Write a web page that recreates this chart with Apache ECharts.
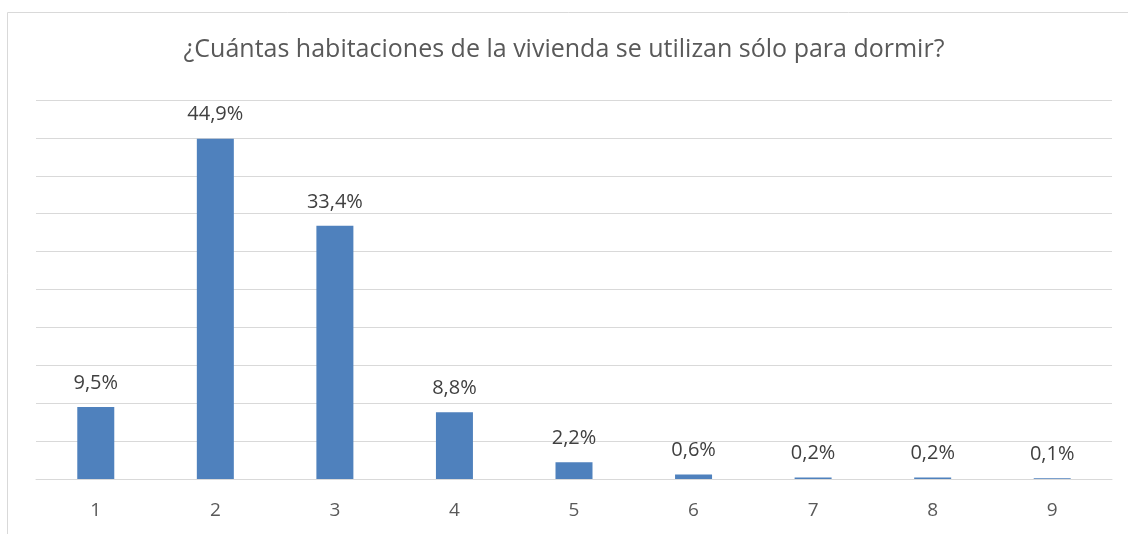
<!DOCTYPE html>
<html>
<head>
<meta charset="utf-8">
<script src="https://cdn.jsdelivr.net/npm/echarts@6/dist/echarts.min.js"></script>
<style>
  html, body { margin: 0; padding: 0; background: #fff; }
  #chart { width: 1128px; height: 534px; }
</style>
</head>
<body>
<div id="chart"></div>
<script>
var titleText = "¿Cuántas habitaciones de la vivienda se utilizan sólo para dormir?";
var categories = ["1", "2", "3", "4", "5", "6", "7", "8", "9"];
var percentages = [9.5, 44.9, 33.4, 8.8, 2.2, 0.6, 0.2, 0.2, 0.1];

var myChart = echarts.init(document.getElementById("chart"));
var font = "'Open Sans', 'Noto Sans', sans-serif";

myChart.setOption({
  animation: false,
  title: {
    text: titleText,
    left: "center",
    top: 32,
    textStyle: {
      color: "#595959",
      fontSize: 25,
      fontWeight: "normal",
      fontFamily: font
    }
  },
  graphic: [
    {
      type: "rect",
      shape: { x: 7.5, y: 12.5, width: 1130, height: 530 },
      style: { fill: "none", stroke: "#d9d9d9", lineWidth: 1 },
      silent: true
    }
  ],
  grid: {
    left: 36,
    right: 16,
    top: 100,
    bottom: 55
  },
  xAxis: {
    type: "category",
    data: categories,
    axisTick: { show: false },
    axisLine: { lineStyle: { color: "#d9d9d9", width: 1 } },
    axisLabel: {
      color: "#595959",
      fontSize: 19,
      fontFamily: font,
      margin: 22
    }
  },
  yAxis: {
    type: "value",
    min: 0,
    max: 50,
    interval: 5,
    axisLabel: { show: false },
    axisLine: { show: false },
    axisTick: { show: false },
    splitLine: { lineStyle: { color: "#d9d9d9", width: 1 } }
  },
  series: [
    {
      type: "bar",
      data: percentages,
      barWidth: 37,
      itemStyle: { color: "#4f81bd" },
      label: {
        show: true,
        position: "top",
        distance: 14,
        color: "#404040",
        fontSize: 20,
        fontFamily: font,
        formatter: function (p) {
          return p.value.toFixed(1).replace(".", ",") + "%";
        }
      }
    }
  ]
});
</script>
</body>
</html>
